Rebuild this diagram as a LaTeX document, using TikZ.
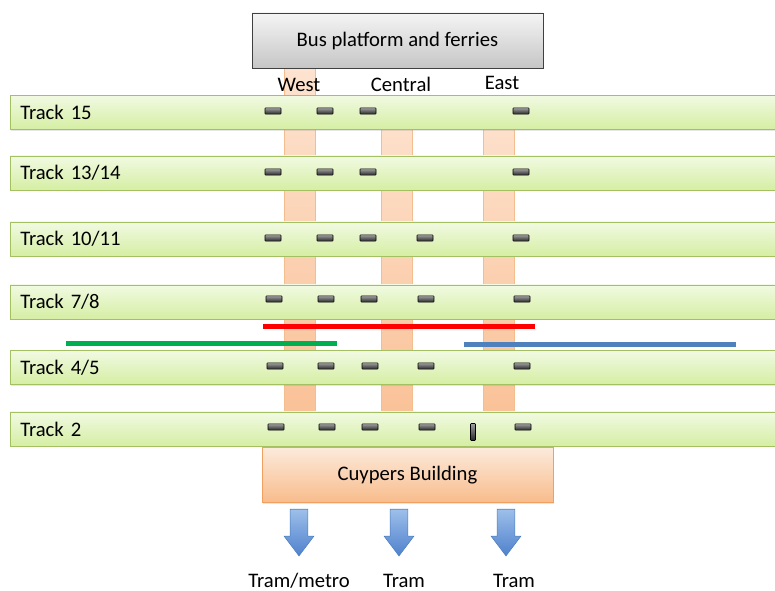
\documentclass[tikz,border=0pt]{standalone}
\usepackage{fontspec}
\setmainfont{Carlito}
\usetikzlibrary{shapes.geometric, shapes.arrows, shadows, calc, positioning}
\definecolor{trackline}{HTML}{A3C163}
\definecolor{tracktop}{HTML}{F1FAE2}
\definecolor{trackbot}{HTML}{D5EEA3}
\definecolor{hallline}{HTML}{F0A060}
\definecolor{halltop}{HTML}{FCEADB}
\definecolor{hallbot}{HTML}{F8BC8C}
\definecolor{passtop}{HTML}{FDE3D0}
\definecolor{passbot}{HTML}{F9BE92}
\definecolor{exitline}{HTML}{4A7EBB}
\definecolor{exittop}{HTML}{9DBFEA}
\definecolor{exitbot}{HTML}{4F81CD}
\definecolor{routegreen}{HTML}{00B050}
\definecolor{routeblue}{HTML}{4F81BD}
\tikzstyle{track} = [rectangle, draw=trackline, top color=tracktop, bottom color=trackbot, text width=560pt, align=left, minimum height=25.5pt, inner xsep=7.5pt, anchor=west, drop shadow={opacity=0.2, shadow xshift=0.6pt, shadow yshift=-1pt}]
\tikzstyle{platform} = [rectangle, draw=black!75, top color=gray!8, bottom color=gray!45, minimum width=218.25pt, minimum height=41.25pt, drop shadow={opacity=0.3, shadow xshift=0.8pt, shadow yshift=-1pt}]
\tikzstyle{building} = [rectangle, draw=hallline, top color=halltop, bottom color=hallbot, minimum width=218.25pt, minimum height=41.25pt, drop shadow={opacity=0.2, shadow xshift=0.8pt, shadow yshift=-1pt}]
\tikzstyle{stop} = [rectangle, rounded corners=0.6pt, draw=black, top color=gray!75, bottom color=black!85, minimum width=12pt, minimum height=4.8pt, inner sep=0pt]
\tikzstyle{stopv} = [stop, minimum width=3.75pt, minimum height=12.75pt]
\tikzstyle{exit} = [single arrow, shape border rotate=270, draw=exitline, top color=exittop, bottom color=exitbot, minimum height=35pt, inner sep=6.5pt, single arrow head extend=4.5pt, single arrow tip angle=74]
\tikzstyle{passage} = [draw=hallline!70, top color=passtop, bottom color=passbot]
\tikzstyle{route} = [line width=3.75pt]
\tikzstyle{caption} = [text height=11pt, text depth=3pt, inner sep=1pt]

\begin{document}
\begin{tikzpicture}[x=0.75pt, y=-0.75pt, font=\fontsize{15.5}{18}\selectfont, node distance = 10pt]
		\useasboundingbox (0,0) rectangle (775,591);
		% passages between the tracks
		\path [passage] (284,68) rectangle (315,447);
		\path [passage] (381,100) rectangle (412,447);
		\path [passage] (483,100) rectangle (514,447);

		\node (Bus) [platform] at (397.5,40.5) {Bus platform and ferries};
		\node (West) [caption] at (299,86) {West};
		\node (Central) [caption] at (401,86) {Central};
		\node (East) [caption] at (502,84) {East};

		\node (T15) [track] at (10,112.5) {Track 15};
		\node (T13) [track] at (10,173) {Track 13/14};
		\node (T10) [track] at (10,239) {Track 10/11};
		\node (T7) [track] at (10,302) {Track 7/8};
		\node (T4) [track] at (10,367.5) {Track 4/5};
		\node (T2) [track] at (10,429) {Track 2};

		% stops on the tracks
		\node (s15a) [stop] at (273,111) {};
		\node (s15b) [stop] at (325,111) {};
		\node (s15c) [stop] at (368,111) {};
		\node (s15e) [stop] at (521,111) {};
		\node (s13a) [stop] at (273,172) {};
		\node (s13b) [stop] at (325,172) {};
		\node (s13c) [stop] at (368,172) {};
		\node (s13e) [stop] at (521,172) {};
		\node (s10a) [stop] at (273,238) {};
		\node (s10b) [stop] at (325,238) {};
		\node (s10c) [stop] at (368,238) {};
		\node (s10d) [stop] at (425,238) {};
		\node (s10e) [stop] at (521,238) {};
		\node (s7a) [stop] at (274,299) {};
		\node (s7b) [stop] at (326,299) {};
		\node (s7c) [stop] at (369,299) {};
		\node (s7d) [stop] at (426,299) {};
		\node (s7e) [stop] at (522,299) {};
		\node (s4a) [stop] at (275,366) {};
		\node (s4b) [stop] at (326,366) {};
		\node (s4c) [stop] at (370,366) {};
		\node (s4d) [stop] at (426,366) {};
		\node (s4e) [stop] at (522,366) {};
		\node (s2a) [stop] at (276,427) {};
		\node (s2b) [stop] at (327,427) {};
		\node (s2c) [stop] at (370,427) {};
		\node (s2d) [stop] at (427,427) {};
		\node (s2v) [stopv] at (473,432) {};
		\node (s2e) [stop] at (523,427) {};

		% routes
		\draw [route, red] (263,327) -- (535,327);
		\draw [route, routegreen] (66,344) -- (337,344);
		\draw [route, routeblue] (464,345) -- (736,345);

		\node (Cuypers) [building] at (407.5,475) {Cuypers Building};

		\node (Exit1) [exit, anchor=tail] at (299,509) {};
		\node (Exit2) [exit, anchor=tail] at (399,509) {};
		\node (Exit3) [exit, anchor=tail] at (506,509) {};
		\node (Metro) [caption, below = 11pt of Exit1.tip] {Tram/metro};
		\node (Tram1) [caption, below = 11pt of Exit2.tip, xshift=3.75pt] {Tram};
		\node (Tram2) [caption, below = 11pt of Exit3.tip, xshift=6pt] {Tram};
	\end{tikzpicture}
\end{document}
